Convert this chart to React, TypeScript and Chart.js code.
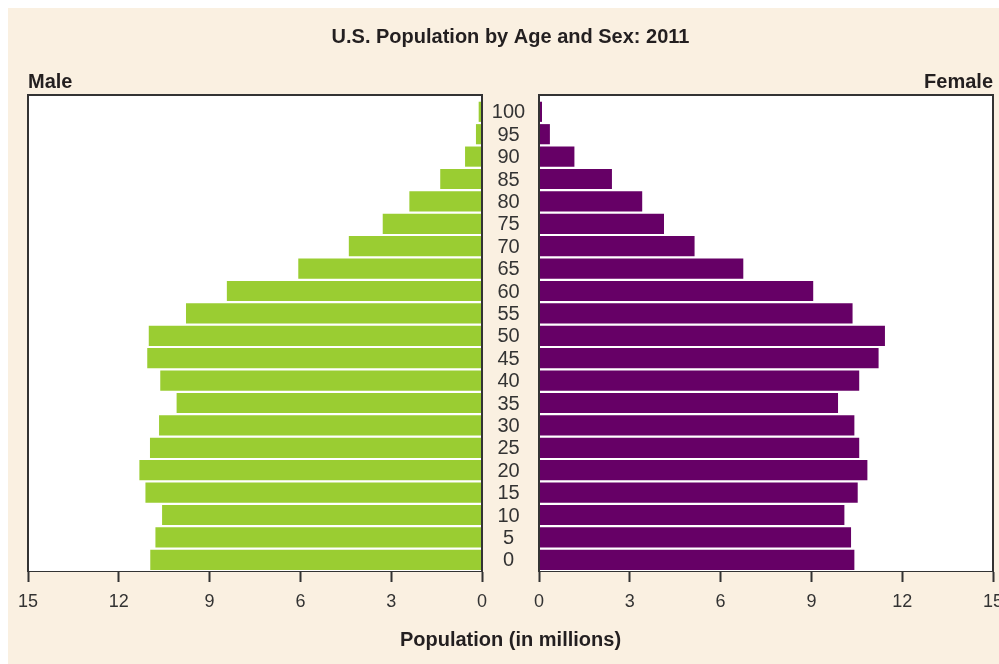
import React, { useEffect, useRef } from 'react';
import { Chart, registerables } from 'chart.js';

Chart.register(...registerables);

// Age groups (years), bottom to top
const ages = [0, 5, 10, 15, 20, 25, 30, 35, 40, 45, 50, 55, 60, 65, 70, 75, 80, 85, 90, 95, 100];
// Population in millions
const maleValues = [10.96, 10.79, 10.57, 11.12, 11.32, 10.97, 10.67, 10.09, 10.63, 11.06, 11.01, 9.78, 8.43, 6.07, 4.4, 3.28, 2.4, 1.38, 0.56, 0.2, 0.11];
const femaleValues = [10.42, 10.31, 10.09, 10.53, 10.85, 10.58, 10.42, 9.88, 10.58, 11.22, 11.43, 10.36, 9.06, 6.75, 5.14, 4.13, 3.41, 2.41, 1.17, 0.36, 0.1];
const xTickValues = [0, 3, 6, 9, 12, 15];

const TITLE = 'U.S. Population by Age and Sex: 2011';
const AXIS_TITLE = 'Population (in millions)';
const MALE_LABEL = 'Male';
const FEMALE_LABEL = 'Female';

const FONT = '"Liberation Sans", Arial, Helvetica, sans-serif';
const TEXT = '#231f20';
const LINE = '#333333';
const GREEN = '#9acd32';
const PURPLE = '#660066';
const CREAM = '#faf0e1';

const W = 991;
const H = 656;

const pyramidPlugin = {
  id: 'pyramidDecor',
  beforeDatasetsDraw(chart: any) {
    const { ctx, chartArea, scales } = chart;
    ctx.save();
    ctx.fillStyle = '#ffffff';
    for (const id of ['xm', 'xf']) {
      const s = scales[id];
      ctx.fillRect(s.left, chartArea.top, s.right - s.left, chartArea.bottom - chartArea.top);
    }
    ctx.restore();
  },
  afterDatasetsDraw(chart: any) {
    const { ctx, chartArea, scales } = chart;
    ctx.save();
    ctx.strokeStyle = LINE;
    ctx.lineWidth = 2;
    for (const id of ['xm', 'xf']) {
      const s = scales[id];
      ctx.beginPath();
      ctx.moveTo(s.left, chartArea.bottom);
      ctx.lineTo(s.left, chartArea.top);
      ctx.lineTo(s.right, chartArea.top);
      ctx.lineTo(s.right, chartArea.bottom);
      ctx.stroke();
    }
    // age labels in the middle gap
    const xm = scales.xm;
    const xf = scales.xf;
    const y = scales.y;
    const cx = (xm.right + xf.left) / 2 - 2;
    ctx.fillStyle = '#333333';
    ctx.font = `20px ${FONT}`;
    ctx.textAlign = 'center';
    ctx.textBaseline = 'middle';
    for (const a of ages) {
      ctx.fillText(String(a), cx, y.getPixelForValue(a) + 1);
    }
    // Male / Female headers
    ctx.fillStyle = TEXT;
    ctx.font = `bold 20px ${FONT}`;
    ctx.textBaseline = 'alphabetic';
    ctx.textAlign = 'left';
    ctx.fillText(MALE_LABEL, xm.left, chartArea.top - 7);
    ctx.textAlign = 'right';
    ctx.fillText(FEMALE_LABEL, xf.right, chartArea.top - 7);
    ctx.restore();
  },
};

const xAxisBase = (weight: number) => ({
  type: 'linear',
  position: 'bottom',
  stack: 'pyramid',
  stackWeight: weight,
  min: 0,
  max: 15,
  afterBuildTicks: (scale: any) => {
    scale.ticks = xTickValues.map((v) => ({ value: v }));
  },
  afterFit: (scale: any) => {
    scale.paddingLeft = 0;
    scale.paddingRight = 0;
  },
  ticks: {
    color: '#333333',
    font: { family: FONT, size: 18 },
    padding: 9,
    autoSkip: false,
    maxRotation: 0,
  },
  grid: {
    drawOnChartArea: false,
    drawTicks: true,
    tickLength: 11,
    tickColor: LINE,
    tickWidth: 2,
  },
  border: { display: true, color: LINE, width: 2 },
});

export default function App() {
  const ref = useRef<HTMLCanvasElement | null>(null);

  useEffect(() => {
    document.body.style.margin = '0';
    document.documentElement.style.overflow = 'hidden';
    if (!ref.current) return;
    const chart = new Chart(ref.current, {
      type: 'bar',
      data: {
        datasets: [
          {
            label: MALE_LABEL,
            data: maleValues.map((v, i) => ({ x: v, y: ages[i] })),
            xAxisID: 'xm',
            yAxisID: 'y',
            backgroundColor: GREEN,
            borderWidth: 0,
            grouped: false,
            categoryPercentage: 1,
            barPercentage: 0.9,
          } as any,
          {
            label: FEMALE_LABEL,
            data: femaleValues.map((v, i) => ({ x: v, y: ages[i] })),
            xAxisID: 'xf',
            yAxisID: 'y',
            backgroundColor: PURPLE,
            borderWidth: 0,
            grouped: false,
            categoryPercentage: 1,
            barPercentage: 0.9,
          } as any,
        ],
      },
      options: {
        indexAxis: 'y',
        responsive: false,
        animation: false,
        devicePixelRatio: 1,
        layout: { padding: { left: 20, right: 6, top: 0, bottom: 0 } },
        scales: {
          xm: { ...xAxisBase(454), reverse: true } as any,
          xgap: {
            type: 'linear',
            position: 'bottom',
            stack: 'pyramid',
            stackWeight: 57,
            display: false,
          } as any,
          xf: { ...xAxisBase(454) } as any,
          y: {
            type: 'linear',
            position: 'left',
            min: -2.5,
            max: 103.75,
            offset: false,
            display: false,
            grid: { offset: false },
            ticks: { stepSize: 5, includeBounds: false },
          } as any,
        },
        plugins: {
          legend: { display: false },
          tooltip: { enabled: false },
          title: {
            display: true,
            text: TITLE,
            color: TEXT,
            font: { family: FONT, size: 20, weight: 'bold' },
            padding: { top: 17, bottom: 46 },
          },
          subtitle: {
            display: true,
            position: 'bottom',
            text: AXIS_TITLE,
            color: TEXT,
            font: { family: FONT, size: 20, weight: 'bold' },
            padding: { top: 6.4, bottom: 12 },
          },
        },
      } as any,
      plugins: [pyramidPlugin],
    });
    return () => chart.destroy();
  }, []);

  return (
    <div style={{ width: W + 8, height: H + 8, paddingLeft: 8, paddingTop: 8, boxSizing: 'border-box', background: '#ffffff' }}>
      <div style={{ width: W, height: H, background: CREAM }}>
        <canvas ref={ref} width={W} height={H} style={{ display: 'block', width: W, height: H }} />
      </div>
    </div>
  );
}
